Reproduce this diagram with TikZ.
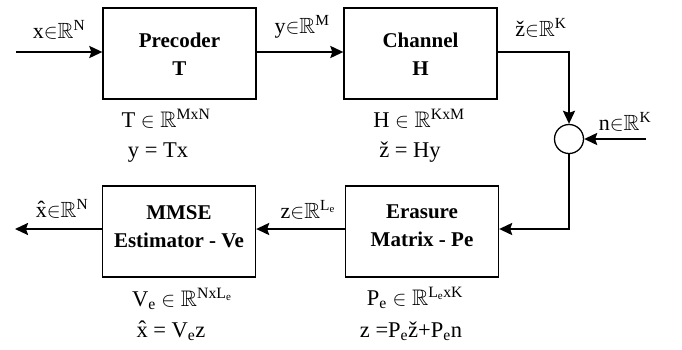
\documentclass[tikz,border=0pt]{standalone}
\usepackage{amssymb}
\usepackage{fontspec}
\setmainfont{Liberation Serif}
\newfontfamily\boxfont{Liberation Serif Bold}
\usetikzlibrary{arrows.meta}
\newcommand{\RR}{\ensuremath{\mathbb{R}}}
\begin{document}
\begin{tikzpicture}[x=1pt,y=-1pt,
  blockbox/.style={draw,line width=1.3pt,minimum width=153pt,minimum height=91pt,inner sep=0pt},
  boxtext/.style={font=\boxfont\fontsize{21}{28}\selectfont,align=center,inner sep=0pt},
  sig/.style={line width=2.2pt,-{Stealth[length=13pt,width=12pt,inset=2pt]}},
  lab/.style={font=\fontsize{22}{24}\selectfont,inner sep=0pt},
  eq/.style={font=\fontsize{22.5}{24}\selectfont,inner sep=0pt,align=center}]
\useasboundingbox (0,0) rectangle (682,349);
\node[blockbox] (pre) at (179.5,53.5) {};
\node[blockbox] (chan) at (420.5,53.5) {};
\node[blockbox] (era) at (422,231.5) {};
\node[blockbox] (mmse) at (179,231.5) {};
\node[boxtext] (pret) at (179.5,54) {Precoder\\T};
\node[boxtext] (chant) at (420.5,54) {Channel\\H};
\node[boxtext] (erat) at (422,226) {Erasure\\Matrix - Pe};
\node[boxtext] (mmset) at (179,227) {MMSE\\Estimator - Ve};
\node[draw,circle,line width=1.3pt,minimum size=29pt,inner sep=0pt] (sum) at (569,139) {};
\coordinate (xin) at (16,52);
\coordinate (nin) at (646,139);
\coordinate (xout) at (15,229);
\coordinate (c1) at (569,52);
\coordinate (c2) at (569,229);
% connectors
\draw[sig] (xin) -- (pre.west |- xin);
\draw[sig] (pre.east |- xin) -- (chan.west |- xin);
\draw[sig] (chan.east |- c1) -- (c1) -- (sum.north);
\draw[sig] (nin) -- (sum.east);
\draw[sig] (sum.south) -- (c2) -- (era.east |- c2);
\draw[sig] (era.west |- c2) -- (mmse.east |- c2);
\draw[sig] (mmse.west |- xout) -- (xout);
% signal labels
\node[lab,anchor=base] (lx) at (59,38) {x$\in$\RR\textsuperscript{N}};
\node[lab,anchor=base] (ly) at (302,33) {y$\in$\RR\textsuperscript{M}};
\node[lab,anchor=base] (lz) at (541,36) {ž$\in$\RR\textsuperscript{K}};
\node[lab,anchor=base] (ln) at (625,130) {n$\in$\RR\textsuperscript{K}};
\node[lab,anchor=base] (lze) at (308,218) {z$\in$\RR\textsuperscript{L\textsubscript{e}}};
\node[lab,anchor=base] (lxh) at (62,217) {\^{x}$\in$\RR\textsuperscript{N}};
% equations
\node[eq,anchor=base] (e1) at (166,127) {T $\in$ \RR\textsuperscript{MxN}};
\node[eq,anchor=base] (e2) at (158,157) {y = Tx};
\node[eq,anchor=base] (e3) at (419,127) {H $\in$ \RR\textsuperscript{KxM}};
\node[eq,anchor=base] (e4) at (410,157) {ž = Hy};
\node[eq,anchor=base] (e5) at (182,306) {V\textsubscript{e} $\in$ \RR\textsuperscript{NxL\textsubscript{e}}};
\node[eq,anchor=base] (e6) at (171,337) {\^{x} = V\textsubscript{e}z};
\node[eq,anchor=base] (e7) at (415,305) {P\textsubscript{e} $\in$ \RR\textsuperscript{L\textsubscript{e}xK}};
\node[eq,anchor=base] (e8) at (411,337) {z =P\textsubscript{e}ž+P\textsubscript{e}n};
\end{tikzpicture}
\end{document}
